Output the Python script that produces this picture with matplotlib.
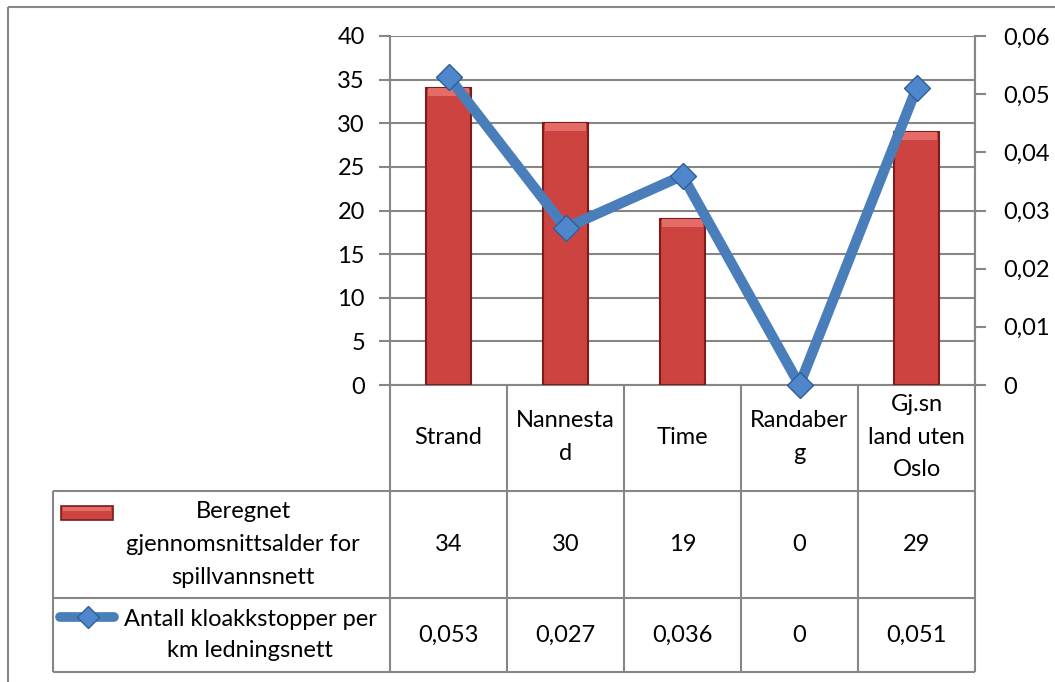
import matplotlib
matplotlib.use("Agg")
import matplotlib.pyplot as plt
import numpy as np
from matplotlib.patches import Rectangle

# ---- data ----
categories = ["Strand", "Nannesta\nd", "Time", "Randaber\ng", "Gj.sn\nland uten\nOslo"]
ages = [34, 30, 19, 0, 29]
blockages = [0.053, 0.027, 0.036, 0, 0.051]
series_names = ["Beregnet\ngjennomsnittsalder for\nspillvannsnett",
                "Antall kloakkstopper per\nkm ledningsnett"]
left_ticks = [0, 5, 10, 15, 20, 25, 30, 35, 40]
right_ticks = [0, 0.01, 0.02, 0.03, 0.04, 0.05, 0.06]

FONT = "Lato"
FS = 17
GRID = "#868686"
BAR = "#cc4340"
BAR_EDGE = "#7a1d1b"
BAR_HI = "#e56b68"
LINE = "#4a7ebb"
MARK = "#4f86cc"
MARK_EDGE = "#2f5f99"

def fmt(v):
    return f"{v:g}".replace(".", ",")

W, H = 1055, 682
plt.rcParams["font.family"] = [FONT, "DejaVu Sans"]
fig = plt.figure(figsize=(W / 100, H / 100), dpi=100)

# plot area in pixels
x0, x1 = 390, 975
y_top, y_bot = 36, 385
ax = fig.add_axes([x0 / W, (H - y_bot) / H, (x1 - x0) / W, (y_bot - y_top) / H])
ax.set_facecolor("none")
n = len(categories)
xs = np.arange(n)
ax.set_xlim(-0.5, n - 0.5)
ax.set_ylim(0, 40)
ax.set_yticks(left_ticks)
ax.set_yticklabels([fmt(t) for t in left_ticks], fontsize=FS)
ax.yaxis.grid(True, color=GRID, lw=1.5)
ax.set_axisbelow(True)
ax.set_xticks([])
for s in ["top", "right", "bottom"]:
    ax.spines[s].set_visible(False)
ax.spines["left"].set_color(GRID)
ax.spines["left"].set_linewidth(1.5)
ax.tick_params(axis="y", length=8, width=1.5, color=GRID, pad=10)

bw = 0.39
edge_cols = [BAR_EDGE if a > 0 else "none" for a in ages]
ax.bar(xs, ages, width=bw, color=BAR, edgecolor=edge_cols, linewidth=1.5, zorder=3)
hi = [min(a, 0.9) for a in ages]
ax.bar(xs, hi, bottom=[a - h for a, h in zip(ages, hi)], width=bw * 0.92,
       color=BAR_HI, linewidth=0, zorder=3.5)

ax2 = ax.twinx()
ax2.set_ylim(0, 0.06)
ax2.set_yticks(right_ticks)
ax2.set_yticklabels([fmt(t) for t in right_ticks], fontsize=FS)
for s in ["top", "left", "bottom"]:
    ax2.spines[s].set_visible(False)
ax2.spines["right"].set_color(GRID)
ax2.spines["right"].set_linewidth(1.5)
ax2.tick_params(axis="y", length=8, width=1.5, color=GRID, pad=12)
ax2.plot(xs, blockages, color=LINE, lw=7.5, marker="D", markersize=13,
         markerfacecolor=MARK, markeredgecolor=MARK_EDGE, markeredgewidth=1,
         solid_joinstyle="miter", zorder=5, clip_on=False)

# ---- overlay for table ----
ov = fig.add_axes([0, 0, 1, 1], zorder=-1)
ov.set_xlim(0, W)
ov.set_ylim(H, 0)
ov.axis("off")

def hline(y, xa, xb):
    ov.plot([xa, xb], [y, y], color=GRID, lw=1.5, solid_capstyle="butt")

def vline(x, ya, yb):
    ov.plot([x, x], [ya, yb], color=GRID, lw=1.5, solid_capstyle="butt")

# outer border
hline(7, 8, W)
vline(8, 7, H)

col_w = (x1 - x0) / n
leg_x = 53
r0, r1, r2, r3 = 385, 491, 598, 672
hline(r0, x0, x1)
hline(r1, leg_x, x1)
hline(r2, leg_x, x1)
hline(r3, leg_x, x1)
vline(leg_x, r1, r3)
vline(x0, r0, r3)
for i in range(1, n):
    vline(x0 + i * col_w, r0, r3)
vline(x1, y_top, r3)

LS = 1.7
for i, c in enumerate(categories):
    cx = x0 + (i + 0.5) * col_w
    ov.text(cx, (r0 + r1) / 2 - 1, c, ha="center", va="center", fontsize=FS,
            linespacing=LS)
    ov.text(cx, (r1 + r2) / 2, fmt(ages[i]), ha="center", va="center", fontsize=FS)
    ov.text(cx, (r2 + r3) / 2, fmt(blockages[i]), ha="center", va="center", fontsize=FS)

# legend cells
ov.text(243, (r1 + r2) / 2, series_names[0], ha="center", va="center",
        fontsize=FS, linespacing=LS)
ov.text(250, (r2 + r3) / 2, series_names[1], ha="center", va="center",
        fontsize=FS, linespacing=1.55)
ov.add_patch(Rectangle((61, 506), 52, 14, facecolor=BAR, edgecolor=BAR_EDGE, lw=1.2))
ov.add_patch(Rectangle((63, 507), 48, 4, facecolor=BAR_HI, lw=0))
ov.plot([60, 114], [617, 617], color=LINE, lw=7, solid_capstyle="round")
ov.plot([88], [617], marker="D", markersize=11, markerfacecolor=MARK,
        markeredgecolor=MARK_EDGE, markeredgewidth=1)

fig.savefig("out.png", dpi=100)
